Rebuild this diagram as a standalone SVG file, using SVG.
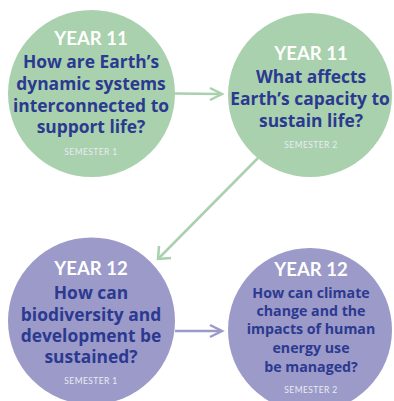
<svg xmlns="http://www.w3.org/2000/svg" width="394" height="401" viewBox="0 0 394 401">
<defs>
<style>
.g{fill:#A9D1AD}
.p{fill:#9C9AC8}
text{font-family:Lato,"Open Sans","Liberation Sans",sans-serif;text-anchor:middle;font-weight:bold}
.yr{fill:#FFFFFF;font-size:18.5px}
.q{fill:#2B3990;font-size:17.4px;font-family:"Open Sans",Lato,sans-serif}
.qs{fill:#2B3990;font-size:14.2px;font-family:"Open Sans",Lato,sans-serif}
.sem{fill:#E8ECF4;font-size:8.5px;font-weight:normal;letter-spacing:0.4px}
.lg{stroke:#A9D1AD;stroke-width:2.5;fill:none}
.lp{stroke:#9C9AC8;stroke-width:2.5;fill:none}
</style>
</defs>
<rect width="394" height="401" fill="#FFFFFF"/>
<g id="connectors">
<path class="lg" d="M175,93.5 L221,94"/>
<path d="M210,88 L222,94 L210,100" fill="none" stroke="#A9D1AD" stroke-width="2.5"/>
<path class="lg" d="M258,158 L159,258"/>
<path d="M159,246 L158,259 L171,258" fill="none" stroke="#A9D1AD" stroke-width="2.5"/>
<path class="lp" d="M175,331 L221,331"/>
<path d="M210,325 L222,331 L210,337" fill="none" stroke="#9C9AC8" stroke-width="2.5"/>
</g>
<g id="node1">
<circle class="g" cx="91.5" cy="93.5" r="83.5"/>
<text class="yr" x="91" y="45">YEAR 11</text>
<text class="q" x="91" y="68">How are Earth’s</text>
<text class="q" x="91" y="90">dynamic systems</text>
<text class="q" x="91" y="112">interconnected to</text>
<text class="q" x="91" y="133">support life?</text>
<text class="sem" x="91" y="155">SEMESTER 1</text>
</g>
<g id="node2">
<circle class="g" cx="310" cy="95" r="82"/>
<text class="yr" x="311" y="60">YEAR 11</text>
<text class="q" x="311" y="83">What affects</text>
<text class="q" x="310" y="105">Earth’s capacity to</text>
<text class="q" x="311" y="127">sustain life?</text>
<text class="sem" x="311" y="148">SEMESTER 2</text>
</g>
<g id="node3">
<circle class="p" cx="91.5" cy="321" r="83.5"/>
<text class="yr" x="91" y="275">YEAR 12</text>
<text class="q" x="91" y="299">How can</text>
<text class="q" x="91" y="321">biodiversity and</text>
<text class="q" x="91" y="342">development be</text>
<text class="q" x="91" y="363">sustained?</text>
<text class="sem" x="91" y="384">SEMESTER 1</text>
</g>
<g id="node4">
<circle class="p" cx="310" cy="330" r="82"/>
<text class="yr" x="311" y="276">YEAR 12</text>
<text class="qs" x="311" y="298">How can climate</text>
<text class="qs" x="311" y="316">change and the</text>
<text class="qs" x="311" y="334">impacts of human</text>
<text class="qs" x="311" y="353">energy use</text>
<text class="qs" x="311" y="372">be managed?</text>
<text class="sem" x="311" y="393">SEMESTER 2</text>
</g>
</svg>
